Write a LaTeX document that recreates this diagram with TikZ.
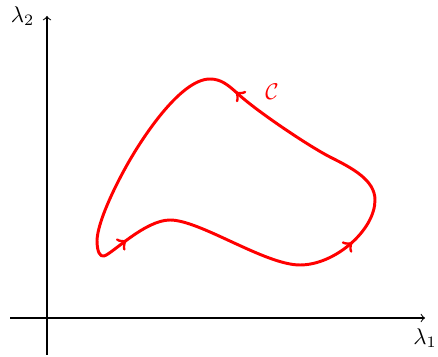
\documentclass[tikz,border=0pt]{standalone}
\usetikzlibrary{decorations.markings}
\begin{document}
\begin{tikzpicture}[x=0.44pt,y=-0.44pt,
  axis/.style={->,line width=0.45pt},
  curve/.style={red,line width=1.3pt,line join=round},
  arrowmarks/.style={postaction={decorate},decoration={markings,
     mark=at position 12pt with {\arrow[red,line width=1.3pt]{>}},
     mark=at position 120pt with {\arrow[red,line width=1.3pt]{>}},
     mark=at position 221pt with {\arrow[red,line width=1.3pt]{>}}}}]
\useasboundingbox (0,0) rectangle (438,357);
% axes
\coordinate (xs) at (10,318);
\coordinate (xe) at (425,318);
\coordinate (ys) at (47,355);
\coordinate (ye) at (47,16);
\draw[axis] (xs) -- (xe);
\draw[axis] (ys) -- (ye);
\node[anchor=north] (l1) at ([yshift=-1pt]xe) {$\lambda_1$};
\node[anchor=east] (l2) at ([xshift=-2pt]ye) {$\lambda_2$};
% curve
\coordinate (A) at (104,256);
\coordinate (B) at (170,220);
\coordinate (Cc) at (300,265);
\coordinate (D) at (375,200);
\coordinate (E) at (330,157);
\coordinate (F) at (237,93);
\coordinate (G) at (210,79);
\coordinate (H) at (127,165);
\coordinate (I) at (97,240);
\draw[curve,arrowmarks]
  (A) .. controls (112,254) and (145,220) .. (B)
      .. controls (200,220) and (265,265) .. (Cc)
      .. controls (335,265) and (375,230) .. (D)
      .. controls (375,180) and (352,168) .. (E)
      .. controls (308,145.7) and (255,110) .. (F)
      .. controls (228,85) and (221,79) .. (G)
      .. controls (180,79) and (141,140) .. (H)
      .. controls (113,190) and (98,222) .. (I)
      .. controls (97,252) and (100,257) .. cycle;
\node[red] (C) at (272,92) {$\mathcal{C}$};
\end{tikzpicture}
\end{document}
